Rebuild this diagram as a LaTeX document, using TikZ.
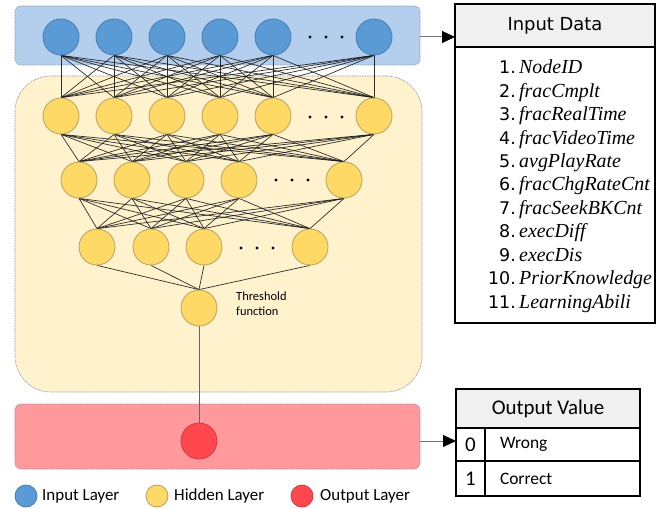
\documentclass[tikz,border=0pt]{standalone}
\usepackage{fontspec}
\setmainfont{Liberation Serif}
\newfontfamily\labelfont{Carlito}
\newfontfamily\headfont{DejaVu Sans}
\usetikzlibrary{arrows.meta}

\definecolor{bandblue}{RGB}{180,206,237}
\definecolor{nodeblue}{RGB}{91,155,213}
\definecolor{edgeblue}{RGB}{70,125,180}
\definecolor{bandyellow}{RGB}{255,242,204}
\definecolor{nodeyellow}{RGB}{255,217,102}
\definecolor{edgeyellow}{RGB}{185,160,95}
\definecolor{bandred}{RGB}{255,153,156}
\definecolor{nodered}{RGB}{255,72,78}
\definecolor{edgered}{RGB}{200,60,65}
\definecolor{headgray}{RGB}{240,240,240}
\definecolor{bandedge}{RGB}{140,150,165}

\pgfdeclarelayer{back}
\pgfdeclarelayer{mid}
\pgfsetlayers{back,mid,main}

\tikzset{
  band/.style={draw=bandedge, line width=0.6bp, dash pattern=on 1.5bp off 1bp,
               inner sep=0pt, outer sep=0pt},
  neuron/.style={circle, minimum size=36bp, inner sep=0pt, line width=0.8bp},
  inneuron/.style={neuron, fill=nodeblue, draw=edgeblue},
  hidneuron/.style={neuron, fill=nodeyellow, draw=edgeyellow},
  outneuron/.style={neuron, fill=nodered, draw=edgered},
  conn/.style={draw=black!90, line width=0.7bp, opacity=0.9},
  link/.style={draw=black!60, line width=0.8bp},
  arr/.style={draw=black!55, line width=1bp, -{Triangle[length=13bp,width=12bp,color=black]}},
  tablebox/.style={draw=black, line width=1.3bp, inner sep=0pt, outer sep=0pt},
  headbox/.style={tablebox, fill=headgray},
  numtxt/.style={inner sep=0pt, font=\headfont\fontsize{17.5}{20}\selectfont},
  itemtxt/.style={inner sep=0pt, font=\itshape\fontsize{20}{23}\selectfont},
  legtxt/.style={inner sep=0pt, anchor=west, font=\labelfont\fontsize{17}{20}\selectfont},
  dotmark/.style={fill=black},
}

\begin{document}
\begin{tikzpicture}[x=1bp, y=-1bp]
\useasboundingbox (0,0) rectangle (663,509);

% layer bands
\begin{pgfonlayer}{back}
  \node[band, fill=bandyellow, minimum width=407bp, minimum height=316bp,
        rounded corners=36bp] (hidband) at (218.5,234) {};
  \node[band, fill=bandblue, minimum width=405bp, minimum height=59bp,
        rounded corners=6bp] (inband) at (217.5,35.5) {};
  \node[band, fill=bandred, minimum width=405bp, minimum height=65bp,
        rounded corners=6bp] (outband) at (217.5,436.5) {};
\end{pgfonlayer}

% input layer
\foreach \x [count=\k] in {61,114,167,220,273,374}
  \node[inneuron] (i\k) at (\x,37) {};
% hidden layers
\foreach \x [count=\k] in {61,114,167,220,273,374}
  \node[hidneuron] (a\k) at (\x,116) {};
\foreach \x [count=\k] in {79,132,186,239,344}
  \node[hidneuron] (b\k) at (\x,180) {};
\foreach \x [count=\k] in {97,151,204,310}
  \node[hidneuron] (c\k) at (\x,247) {};
\node[hidneuron] (thr) at (199,308) {};
\node[anchor=north west, align=left, inner sep=0pt,
      font=\labelfont\fontsize{12.5}{14.5}\selectfont] (thrtxt) at (236,292)
      {Threshold\\function};
% output layer
\node[outneuron] (out) at (199,441) {};

% ellipsis dots
\foreach \x in {310,326,342} {
  \fill[dotmark] (\x,37) circle (1.6bp);
  \fill[dotmark] (\x,117) circle (1.6bp);
}
\foreach \x in {276,292,308} \fill[dotmark] (\x,180) circle (1.6bp);
\foreach \x in {241,257,273} \fill[dotmark] (\x,248) circle (1.6bp);

% weighted connections
\begin{pgfonlayer}{mid}
  \foreach \s in {1,...,6} \foreach \t in {1,...,6}
    \draw[conn] (i\s.south) -- (a\t.north);
  \foreach \s in {1,...,6} \foreach \t in {1,...,5}
    \draw[conn] (a\s.south) -- (b\t.north);
  \foreach \s in {1,...,5} \foreach \t in {1,...,4}
    \draw[conn] (b\s.south) -- (c\t.north);
  \foreach \s in {1,...,4}
    \draw[conn] (c\s.south) -- (thr.north);
  \draw[link] (thr.south) -- (out.north);
\end{pgfonlayer}

% input data table
\node[tablebox, minimum width=200bp, minimum height=319bp] (indata) at (555,163.5) {};
\node[headbox, minimum width=200bp, minimum height=43bp, anchor=north,
      font=\headfont\fontsize{18}{21}\selectfont] (inhead) at (indata.north) {Input Data};
\foreach \n/\t [count=\k] in {1/NodeID, 2/fracCmplt, 3/fracRealTime, 4/fracVideoTime,
    5/avgPlayRate, 6/fracChgRateCnt, 7/fracSeekBKCnt, 8/execDiff, 9/execDis,
    10/PriorKnowledge, 11/LearningAbili} {
  \node[numtxt, anchor=base east] (num\k) at (516,{74+23.4*(\k-1)}) {\n.};
  \node[itemtxt, anchor=base west] (item\k) at (519,{74+23.4*(\k-1)}) {\t};
}

% output value table
\node[tablebox, minimum width=184bp, minimum height=107bp] (outbox) at (548,442.5) {};
\node[headbox, minimum width=184bp, minimum height=39bp, anchor=north,
      font=\labelfont\fontsize{21}{24}\selectfont] (outhead) at (outbox.north) {Output Value};
\node[tablebox, minimum width=29bp, minimum height=33bp,
      font=\labelfont\fontsize{21}{24}\selectfont] (r0n) at (470.5,444.5) {0};
\node[tablebox, minimum width=155bp, minimum height=33bp, text width=125bp, align=left,
      font=\labelfont\fontsize{17.5}{20}\selectfont] (r0t) at (562.5,444.5) {Wrong};
\node[tablebox, minimum width=29bp, minimum height=35bp,
      font=\labelfont\fontsize{21}{24}\selectfont] (r1n) at (470.5,478.5) {1};
\node[tablebox, minimum width=155bp, minimum height=35bp, text width=125bp, align=left,
      font=\labelfont\fontsize{17.5}{20}\selectfont] (r1t) at (562.5,478.5) {Correct};

% arrows to the tables
\draw[arr] (inband.east |- i6.center) -- (indata.west |- i6.center);
\draw[arr] (outband.east |- out.center) -- (outbox.west |- out.center);

% legend
\node[neuron, minimum size=22bp, fill=nodeblue, draw=edgeblue] (legin) at (26,496) {};
\node[legtxt] (legintxt) at (42,496) {Input Layer};
\node[neuron, minimum size=22bp, fill=nodeyellow, draw=edgeyellow] (leghid) at (157,496) {};
\node[legtxt] (leghidtxt) at (174,496) {Hidden Layer};
\node[neuron, minimum size=22bp, fill=nodered, draw=edgered] (legout) at (302,496) {};
\node[legtxt] (legouttxt) at (320,496) {Output Layer};
\end{tikzpicture}
\end{document}
